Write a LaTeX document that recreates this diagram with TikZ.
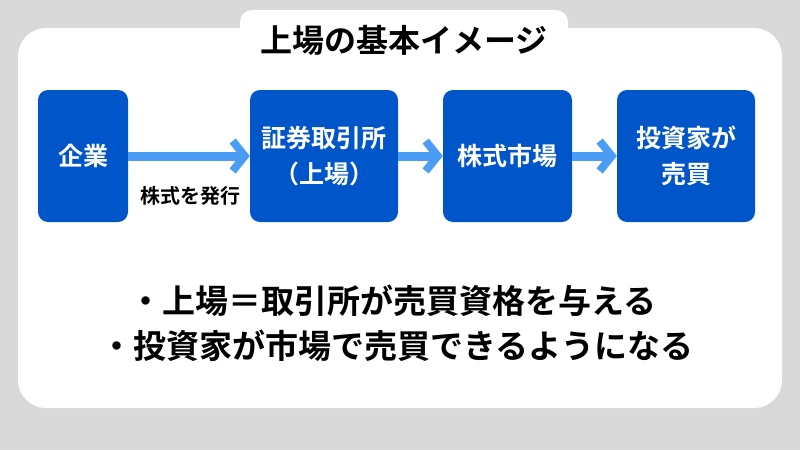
\documentclass[tikz,border=0pt]{standalone}
\usepackage{fontspec}
\setmainfont{Noto Sans CJK JP}[BoldFont={* Bold}]
\usetikzlibrary{positioning,arrows.meta}
\definecolor{boxblue}{HTML}{0055C8}
\definecolor{arrowblue}{HTML}{4A9CF5}
\definecolor{bggray}{HTML}{D9D9D9}
\tikzset{
  stage/.style={fill=boxblue,rounded corners=10pt,text=white,font=\bfseries\fontsize{25}{36}\selectfont,align=center,minimum height=132pt},
  flow/.style={arrowblue,line width=9pt,-{Straight Barb[length=12pt,width=30pt,line width=8pt]}},
  point/.style={font=\bfseries\fontsize{33}{40}\selectfont},
}
\begin{document}
\begin{tikzpicture}[x=1pt,y=-1pt]
	\fill[bggray] (0,0) rectangle (800,450);
	\fill[white,rounded corners=28pt] (18,28) rectangle (782,408);
	\fill[white,rounded corners=12pt] (240,10) rectangle (568,60);
	\node[font=\bfseries\fontsize{32}{36}\selectfont] (title) at (404,40) {上場の基本イメージ};
	\node[stage,minimum width=90pt] (kigyo) at (83,156) {企業};
	\node[stage,minimum width=148pt] (torihiki) at (324,156) {証券取引所\\（上場）};
	\node[stage,minimum width=129pt] (shijo) at (507.5,156) {株式市場};
	\node[stage,minimum width=138pt] (toshi) at (686,156) {投資家が\\売買};
	\draw[flow] (kigyo) -- (torihiki);
	\draw[flow] (torihiki) -- (shijo);
	\draw[flow] (shijo) -- (toshi);
	\node[font=\bfseries\fontsize{20}{24}\selectfont] (hakko) at (190,196) {株式を発行};
	\node[point] (point1) at (393,301) {・上場＝取引所が売買資格を与える};
	\node[point] (point2) at (397,346) {・投資家が市場で売買できるようになる};
\end{tikzpicture}
\end{document}
